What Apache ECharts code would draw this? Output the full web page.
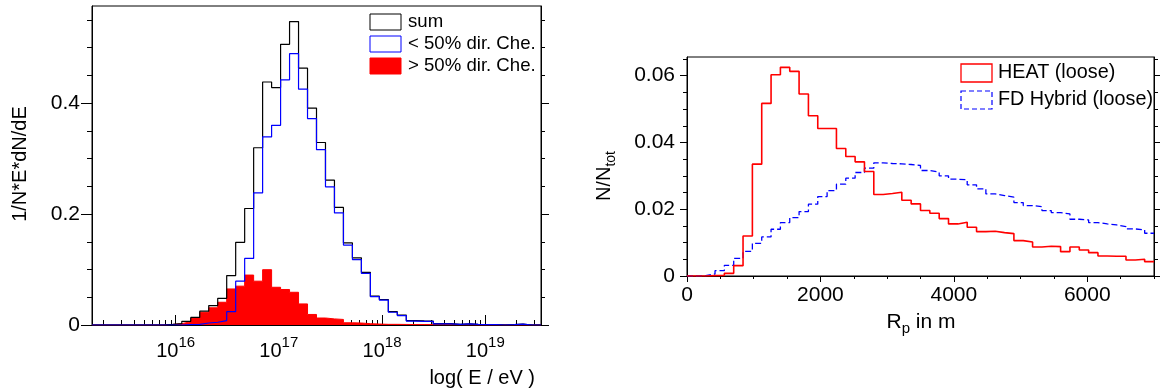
<!DOCTYPE html>
<html>
<head>
<meta charset="utf-8">
<script src="https://cdn.jsdelivr.net/npm/echarts@6.0.0/dist/echarts.min.js"></script>
<style>
  html, body { margin: 0; padding: 0; background: #fff; }
  #chart { width: 1160px; height: 392px; }
</style>
</head>
<body>
<div id="chart"></div>
<script>
// ---- Energy spectrum: 50 equal bins in log10(E / eV) ----
const logEMin = 15.19;
const logEMax = 19.54;

// sum of both classes
const sumHist = [
  0, 0, 0, 0, 0, 0, 0, 0, 0.001, 0.0026,
  0.0066, 0.0136, 0.025, 0.035, 0.048, 0.089, 0.149, 0.210, 0.3195, 0.438,
  0.428, 0.506, 0.547, 0.463, 0.391, 0.329, 0.261, 0.212, 0.148, 0.121,
  0.095, 0.052, 0.046, 0.024, 0.018, 0.008, 0.0074, 0.0072, 0.0025, 0.0024,
  0.0013, 0.0023, 0.001, 0.0005, 0.0005, 0, 0.0005, 0.0015, 0, 0
];
// < 50% direct Cherenkov light
const lowDirChe = [
  0, 0, 0, 0, 0, 0, 0, 0, 0, 0,
  0.0005, 0.001, 0.0036, 0.005, 0.008, 0.024, 0.079, 0.120, 0.238, 0.339,
  0.360, 0.442, 0.489, 0.425, 0.372, 0.316, 0.249, 0.202, 0.144, 0.118,
  0.093, 0.051, 0.045, 0.023, 0.017, 0.007, 0.0066, 0.0066, 0.002, 0.002,
  0.001, 0.002, 0.001, 0.0005, 0.0005, 0, 0.0005, 0.0015, 0, 0
];
// > 50% direct Cherenkov light
const highDirChe = [
  0, 0, 0, 0, 0, 0, 0, 0, 0.001, 0.0024,
  0.006, 0.0126, 0.023, 0.031, 0.041, 0.065, 0.070, 0.090, 0.079, 0.0997,
  0.068, 0.064, 0.059, 0.038, 0.019, 0.0126, 0.011, 0.010, 0.004, 0.0036,
  0.0024, 0.0018, 0.0012, 0.0012, 0.001, 0.0008, 0.0008, 0.0006, 0.0005, 0.0004,
  0.0003, 0.0003, 0, 0, 0, 0, 0, 0, 0, 0
];
const decadeTicks = [16, 17, 18, 19];
const specYMax = 0.575;
const specYMajor = [0, 0.2, 0.4];
const specYMinor = [0, 0.05, 0.1, 0.15, 0.2, 0.25, 0.3, 0.35, 0.4, 0.45, 0.5, 0.55];

// ---- Core distance R_p: 50 bins from 0 to 7000 m ----
const rpMin = 0;
const rpMax = 7000;
const heatLoose = [
  0, 0, 0.0001, 0.0002, 0.0008, 0.0031, 0.012, 0.0335, 0.0517, 0.0603,
  0.0625, 0.0613, 0.0545, 0.048, 0.0442, 0.0442, 0.0382, 0.0358, 0.0342, 0.0313,
  0.0244, 0.0247, 0.0251, 0.0227, 0.0216, 0.0196, 0.0188, 0.0172, 0.0156, 0.0161,
  0.0146, 0.0133, 0.0134, 0.013, 0.0127, 0.0106, 0.0102, 0.0087, 0.0089, 0.0088,
  0.0073, 0.0087, 0.0078, 0.007, 0.006, 0.0059, 0.0059, 0.0048, 0.005, 0.0043
];
const hybridLoose = [
  0, 0.0001, 0.0006, 0.0016, 0.0032, 0.0053, 0.0074, 0.0098, 0.0117, 0.014,
  0.016, 0.0175, 0.0193, 0.0215, 0.0238, 0.0256, 0.0275, 0.0293, 0.031, 0.0323,
  0.0339, 0.0337, 0.0336, 0.0334, 0.0331, 0.0316, 0.0311, 0.030, 0.029, 0.0288,
  0.0273, 0.0261, 0.0246, 0.0241, 0.0236, 0.022, 0.0211, 0.0208, 0.0196, 0.019,
  0.0186, 0.017, 0.0168, 0.016, 0.0156, 0.0153, 0.0148, 0.0141, 0.0138, 0.0128
];
const rpMajor = [0, 2000, 4000, 6000];
const rpMinor = [0, 500, 1000, 1500, 2000, 2500, 3000, 3500, 4000, 4500, 5000, 5500, 6000, 6500, 7000];
const fracYMax = 0.0656;
const fracMajor = [0, 0.02, 0.04, 0.06];
const fracMinor = [0, 0.005, 0.01, 0.015, 0.02, 0.025, 0.03, 0.035, 0.04, 0.045, 0.05, 0.055, 0.06, 0.065];

// ---- helpers ----
const FONT = '"Liberation Sans", Arial, Helvetica, sans-serif';

// bin contents -> points at the left bin edges, closed at the upper edge
function stepPoints(vals, lo, hi) {
  const w = (hi - lo) / vals.length;
  const pts = vals.map((v, i) => [lo + i * w, v]);
  pts.push([hi, vals[vals.length - 1]]);
  return pts;
}

// logarithmic sub-decade tick positions (2..9 x 10^n) inside the range
function logMinorTicks(lo, hi) {
  const out = [];
  for (let n = Math.floor(lo); n <= Math.ceil(hi); n++) {
    for (let k = 2; k <= 9; k++) {
      const v = n + Math.log10(k);
      if (v > lo && v < hi) out.push(v);
    }
  }
  return out;
}
const logMinor = logMinorTicks(logEMin, logEMax);

const black = '#000';
function tickOnlyAxis(extra) {
  return Object.assign({
    type: 'value',
    axisLine: { show: false },
    axisLabel: { show: false },
    splitLine: { show: false }
  }, extra);
}

const chart = echarts.init(document.getElementById('chart'), null, { renderer: 'canvas' });

const option = {
  backgroundColor: '#fff',
  animation: false,
  textStyle: { fontFamily: FONT },
  grid: [
    { left: 92, top: 6, width: 449, height: 319, show: true, borderColor: black, borderWidth: 1,
      backgroundColor: '#fff', containLabel: false, outerBoundsMode: 'none' },
    { left: 687, top: 57, width: 467, height: 219, show: true, borderColor: black, borderWidth: 1,
      backgroundColor: '#fff', containLabel: false, outerBoundsMode: 'none' }
  ],
  xAxis: [
    // energy axis, decades
    {
      gridIndex: 0, type: 'value', position: 'bottom', min: logEMin, max: logEMax,
      axisLine: { show: true, lineStyle: { color: black, width: 1 } },
      axisTick: { show: true, inside: true, length: 10, customValues: decadeTicks, lineStyle: { color: black } },
      axisLabel: {
        customValues: decadeTicks, margin: 10,
        formatter: v => '{b|10}{s|' + Math.round(v) + '}',
        rich: {
          b: { fontSize: 20, lineHeight: 32, fontFamily: FONT, color: black },
          s: { fontSize: 15, lineHeight: 15, verticalAlign: 'top', fontFamily: FONT, color: black }
        }
      },
      splitLine: { show: false }
    },
    tickOnlyAxis({ gridIndex: 0, position: 'bottom', min: logEMin, max: logEMax,
      axisTick: { show: true, inside: true, length: 5, customValues: logMinor, lineStyle: { color: black } } }),
    tickOnlyAxis({ gridIndex: 0, position: 'top', min: logEMin, max: logEMax,
      axisTick: { show: true, inside: false, length: 4, customValues: decadeTicks, lineStyle: { color: black } } }),
    tickOnlyAxis({ gridIndex: 0, position: 'top', min: logEMin, max: logEMax,
      axisTick: { show: true, inside: false, length: 2, customValues: logMinor, lineStyle: { color: black } } }),
    // core distance axis
    {
      gridIndex: 1, type: 'value', position: 'bottom', min: rpMin, max: rpMax,
      axisLine: { show: true, lineStyle: { color: black, width: 1 } },
      axisTick: { show: true, inside: false, length: 6, customValues: rpMajor, lineStyle: { color: black } },
      axisLabel: { customValues: rpMajor, margin: 9, fontSize: 21, color: black, fontFamily: FONT,
        formatter: v => String(Math.round(v)) },
      splitLine: { show: false }
    },
    tickOnlyAxis({ gridIndex: 1, position: 'bottom', min: rpMin, max: rpMax,
      axisTick: { show: true, inside: false, length: 3, customValues: rpMinor, lineStyle: { color: black } } })
  ],
  yAxis: [
    {
      gridIndex: 0, type: 'value', position: 'left', min: 0, max: specYMax,
      axisLine: { show: true, lineStyle: { color: black, width: 1 } },
      axisTick: { show: true, inside: false, length: 5, customValues: specYMinor, lineStyle: { color: black } },
      axisLabel: { customValues: specYMajor, margin: 12, fontSize: 21, color: black, fontFamily: FONT },
      splitLine: { show: false }
    },
    tickOnlyAxis({ gridIndex: 0, position: 'left', min: 0, max: specYMax,
      axisTick: { show: true, inside: false, length: 11, customValues: specYMajor, lineStyle: { color: black } } }),
    tickOnlyAxis({ gridIndex: 0, position: 'right', min: 0, max: specYMax,
      axisLine: { show: true, lineStyle: { color: black, width: 1 } },
      axisTick: { show: true, inside: false, length: 4, customValues: specYMinor, lineStyle: { color: black } } }),
    tickOnlyAxis({ gridIndex: 0, position: 'right', min: 0, max: specYMax,
      axisTick: { show: true, inside: false, length: 8, customValues: specYMajor, lineStyle: { color: black } } }),
    {
      gridIndex: 1, type: 'value', position: 'left', min: 0, max: fracYMax,
      axisLine: { show: true, lineStyle: { color: black, width: 1 } },
      axisTick: { show: true, inside: false, length: 7, customValues: fracMajor, lineStyle: { color: black } },
      axisLabel: { customValues: fracMajor, margin: 12, fontSize: 21, color: black, fontFamily: FONT },
      splitLine: { show: false }
    },
    tickOnlyAxis({ gridIndex: 1, position: 'left', min: 0, max: fracYMax,
      axisTick: { show: true, inside: false, length: 4, customValues: fracMinor, lineStyle: { color: black } } }),
    tickOnlyAxis({ gridIndex: 1, position: 'right', min: 0, max: fracYMax,
      axisLine: { show: true, lineStyle: { color: black, width: 1 } },
      axisTick: { show: true, inside: false, length: 7, customValues: fracMajor, lineStyle: { color: black } } }),
    tickOnlyAxis({ gridIndex: 1, position: 'right', min: 0, max: fracYMax,
      axisTick: { show: true, inside: false, length: 4, customValues: fracMinor, lineStyle: { color: black } } })
  ],
  series: [
    {
      name: '> 50% dir. Che.', type: 'line', xAxisIndex: 0, yAxisIndex: 0, step: 'end',
      data: stepPoints(highDirChe, logEMin, logEMax), showSymbol: false, z: 1,
      lineStyle: { color: '#ff0000', width: 1 }, areaStyle: { color: '#ff0000', opacity: 1 }
    },
    {
      name: 'sum', type: 'line', xAxisIndex: 0, yAxisIndex: 0, step: 'end',
      data: stepPoints(sumHist, logEMin, logEMax), showSymbol: false, z: 2,
      lineStyle: { color: black, width: 1.2 }
    },
    {
      name: '< 50% dir. Che.', type: 'line', xAxisIndex: 0, yAxisIndex: 0, step: 'end',
      data: stepPoints(lowDirChe, logEMin, logEMax), showSymbol: false, z: 3,
      lineStyle: { color: '#0000ff', width: 1.2 }
    },
    {
      name: 'FD Hybrid (loose)', type: 'line', xAxisIndex: 4, yAxisIndex: 4, step: 'end',
      data: stepPoints(hybridLoose, rpMin, rpMax), showSymbol: false, z: 2,
      lineStyle: { color: '#0000ff', width: 1.3, type: [6, 3] }
    },
    {
      name: 'HEAT (loose)', type: 'line', xAxisIndex: 4, yAxisIndex: 4, step: 'end',
      data: stepPoints(heatLoose, rpMin, rpMax), showSymbol: false, z: 3,
      lineStyle: { color: '#ff0000', width: 1.6 }
    }
  ],
  graphic: [
    // axis titles
    { type: 'text', x: 20, y: 164, rotation: Math.PI / 2, z: 100,
      style: { text: '1/N*E*dN/dE', font: '20px ' + FONT, fill: black, align: 'center', verticalAlign: 'middle' } },
    { type: 'text', x: 535, y: 378, z: 100,
      style: { text: 'log( E / eV )', font: '20px ' + FONT, fill: black, align: 'right', verticalAlign: 'middle' } },
    { type: 'text', x: 604, y: 176, rotation: Math.PI / 2, z: 100,
      style: {
        text: '{n|N/N}{t|tot}', align: 'center', verticalAlign: 'middle',
        rich: {
          n: { fontSize: 20, lineHeight: 28, fontFamily: FONT, fill: black },
          t: { fontSize: 14, lineHeight: 14, verticalAlign: 'bottom', fontFamily: FONT, fill: black }
        }
      } },
    // the panel edge trims the top of the rotated title
    { type: 'rect', z: 101, shape: { x: 570, y: 120, width: 26, height: 110 },
      style: { fill: '#fff', stroke: 'none' } },
    { type: 'text', x: 921, y: 322, z: 100,
      style: {
        text: '{r|R}{p|p}{r| in m}', align: 'center', verticalAlign: 'middle',
        rich: {
          r: { fontSize: 21, lineHeight: 28, fontFamily: FONT, fill: black },
          p: { fontSize: 15, lineHeight: 15, verticalAlign: 'bottom', fontFamily: FONT, fill: black }
        }
      } },
    // legend of the energy spectrum
    { type: 'rect', z: 100, shape: { x: 370, y: 14, width: 31, height: 16 },
      style: { fill: 'none', stroke: black, lineWidth: 1 } },
    { type: 'text', x: 408, y: 22, z: 100,
      style: { text: 'sum', font: '18.6px ' + FONT, fill: black, verticalAlign: 'middle' } },
    { type: 'rect', z: 100, shape: { x: 370, y: 36, width: 31, height: 16 },
      style: { fill: 'none', stroke: '#0000ff', lineWidth: 1 } },
    { type: 'text', x: 408, y: 44, z: 100,
      style: { text: '< 50% dir. Che.', font: '18.6px ' + FONT, fill: black, verticalAlign: 'middle' } },
    { type: 'rect', z: 100, shape: { x: 370, y: 58, width: 31, height: 16 },
      style: { fill: '#ff0000', stroke: '#ff0000', lineWidth: 1 } },
    { type: 'text', x: 408, y: 66, z: 100,
      style: { text: '> 50% dir. Che.', font: '18.6px ' + FONT, fill: black, verticalAlign: 'middle' } },
    // legend of the core distance plot
    { type: 'rect', z: 100, shape: { x: 961, y: 64, width: 31, height: 18 },
      style: { fill: 'none', stroke: '#ff0000', lineWidth: 1.3 } },
    { type: 'text', x: 998, y: 73, z: 100,
      style: { text: 'HEAT (loose)', font: '19.8px ' + FONT, fill: black, verticalAlign: 'middle' } },
    { type: 'rect', z: 100, shape: { x: 961, y: 91, width: 31, height: 18 },
      style: { fill: 'none', stroke: '#0000ff', lineWidth: 1.2, lineDash: [5, 3] } },
    { type: 'text', x: 998, y: 100, z: 100,
      style: { text: 'FD Hybrid (loose)', font: '19.8px ' + FONT, fill: black, verticalAlign: 'middle' } }
  ]
};

chart.setOption(option);
</script>
</body>
</html>
